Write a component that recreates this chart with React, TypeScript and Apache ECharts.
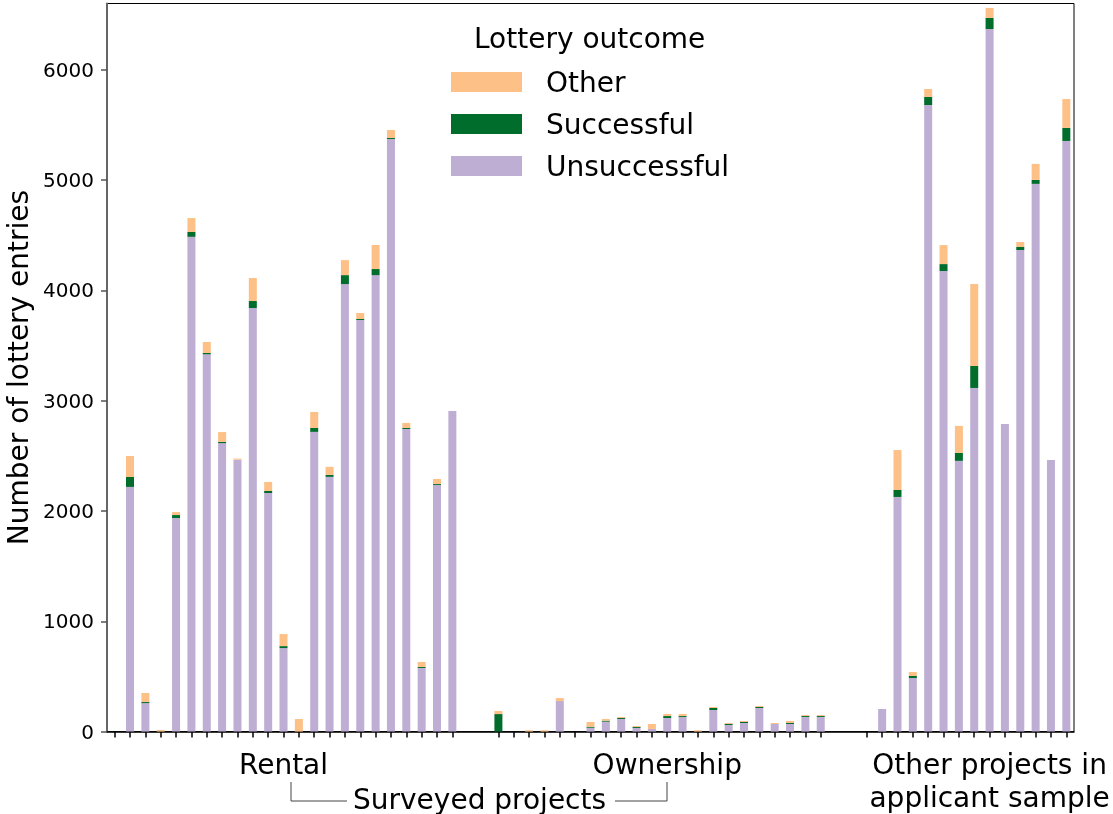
import React, { useEffect, useRef } from "react";
import * as echarts from "echarts";

// Category slots: rental projects, gap, ownership projects, gap, other projects
const rentalIds = ["R01","R02","R03","R04","R05","R06","R07","R08","R09","R10","R11","R12","R13","R14","R15","R16","R17","R18","R19","R20","R21","R22","R23"];
const ownershipIds = ["O01","O02","O03","O04","O05","O06","O07","O08","O09","O10","O11","O12","O13","O14","O15","O16","O17","O18","O19","O20","O21","O22"];
const otherIds = ["A01","A02","A03","A04","A05","A06","A07","A08","A09","A10","A11","A12","A13","A14"];

const rentalUnsuccessful = [0, 2218, 258, 0, 1935, 4485, 3420, 2615, 2465, 3840, 2163, 757, 0, 2717, 2309, 4057, 3731, 4138, 5372, 2743, 577, 2236, 2907];
const rentalSuccessful = [0, 90, 10, 0, 28, 45, 12, 10, 0, 63, 18, 18, 0, 35, 18, 81, 9, 55, 9, 9, 9, 9, 0];
const rentalOther = [0, 190, 82, 15, 27, 125, 100, 90, 10, 209, 82, 109, 114, 145, 73, 136, 54, 218, 72, 46, 45, 45, 0];

const ownershipUnsuccessful = [0, 0, 0, 0, 277, 0, 35, 90, 114, 33, 24, 123, 132, 0, 196, 60, 78, 214, 69, 69, 132, 132];
const ownershipSuccessful = [159, 0, 0, 0, 0, 0, 9, 9, 9, 9, 0, 18, 9, 0, 18, 9, 9, 9, 0, 9, 9, 9];
const ownershipOther = [28, 0, 12, 12, 27, 0, 43, 15, 9, 9, 45, 19, 19, 12, 9, 9, 9, 9, 9, 18, 9, 9];

const otherUnsuccessful = [0, 205, 2127, 486, 5680, 4175, 2454, 3115, 6369, 2788, 4366, 4965, 2462, 5354];
const otherSuccessful = [0, 0, 63, 18, 73, 63, 72, 199, 100, 0, 27, 36, 0, 118];
const otherOther = [0, 0, 362, 36, 72, 172, 245, 743, 91, 0, 45, 145, 0, 262];

const gapSize = 2;
const groupLabels: Record<string, string> = {
  R12: "Rental",
  O12: "Ownership",
  A09: "Other projects in\napplicant sample",
};
const yTicks = [0, 1000, 2000, 3000, 4000, 5000, 6000];
const seriesNames = ["Unsuccessful", "Successful", "Other"];
const seriesColors = ["#beaed4", "#006d2c", "#fdc086"];

export default function App() {
  const ref = useRef<HTMLDivElement>(null);
  useEffect(() => {
    if (!ref.current) return;
    document.body.style.margin = "0";
    const chart = echarts.init(ref.current, undefined, { renderer: "svg" });

    const gap = (p: string) => Array.from({ length: gapSize }, (_, i) => `${p}${i}`);
    const categories = [...rentalIds, ...gap("gapA"), ...ownershipIds, ...gap("gapB"), ...otherIds];
    const nulls = Array(gapSize).fill(null);
    const stacks = [
      [...rentalUnsuccessful, ...nulls, ...ownershipUnsuccessful, ...nulls, ...otherUnsuccessful],
      [...rentalSuccessful, ...nulls, ...ownershipSuccessful, ...nulls, ...otherSuccessful],
      [...rentalOther, ...nulls, ...ownershipOther, ...nulls, ...otherOther],
    ];
    const isGap = (i: number) => categories[i].startsWith("gap");
    const font = "DejaVu Sans";

    chart.setOption({
      animation: false,
      textStyle: { fontFamily: font },
      title: {
        text: "Lottery outcome",
        left: 474,
        top: 24,
        padding: 0,
        textStyle: { fontFamily: font, fontSize: 28, fontWeight: "normal", color: "#000" },
      },
      legend: {
        data: ["Other", "Successful", "Unsuccessful"],
        orient: "vertical",
        left: 451,
        top: 68,
        padding: 0,
        itemWidth: 71,
        itemHeight: 20,
        itemGap: 14,
        icon: "rect",
        selectedMode: false,
        textStyle: { fontFamily: font, fontSize: 28, color: "#000", lineHeight: 28, padding: [0, 0, 0, 19] },
      },
      grid: {
        left: 107, right: 39, top: 3.5, bottom: 82.4,
        outerBoundsMode: "none", containLabel: false,
        show: true, borderColor: "#000", borderWidth: 1, backgroundColor: "transparent",
      },
      xAxis: {
        type: "category",
        data: categories,
        boundaryGap: true,
        axisLine: { show: true, lineStyle: { color: "#000", width: 1.5 } },
        axisTick: {
          show: true,
          alignWithLabel: true,
          length: 6,
          interval: (i: number) => !isGap(i),
          lineStyle: { color: "#000", width: 1.5 },
        },
        axisLabel: {
          interval: (i: number, v: string) => v in groupLabels,
          formatter: (v: string) => groupLabels[v] ?? "",
          fontFamily: font,
          fontSize: 28,
          lineHeight: 33,
          color: "#000",
          margin: 16,
          align: "center",
        },
        splitLine: { show: false },
      },
      yAxis: {
        type: "value",
        min: yTicks[0],
        max: 6600,
        interval: yTicks[1] - yTicks[0],
        name: "Number of lottery entries",
        nameLocation: "middle",
        nameGap: 74,
        nameTextStyle: { fontFamily: font, fontSize: 28, color: "#000" },
        axisLine: { show: true, lineStyle: { color: "#666", width: 2 } },
        axisTick: { show: true, length: 6, customValues: yTicks, lineStyle: { color: "#555", width: 1.5 } },
        axisLabel: {
          fontFamily: font,
          fontSize: 20,
          color: "#000",
          margin: 13,
          customValues: yTicks,
          formatter: (v: number) => (yTicks.includes(v) ? String(v) : ""),
        },
        splitLine: { show: false },
      },
      series: seriesNames.map((name, k) => ({
        name,
        type: "bar",
        stack: "total",
        barWidth: 8,
        data: stacks[k],
        itemStyle: { color: seriesColors[k] },
        emphasis: { disabled: true },
      })),
      graphic: [
        {
          type: "text",
          left: 353,
          top: 785,
          style: { text: "Surveyed projects", fontFamily: font, fontSize: 28, fill: "#000" },
        },
        { type: "polyline", shape: { points: [[291, 782], [291, 801], [347, 801]] }, style: { stroke: "#444", lineWidth: 1, fill: null } },
        { type: "polyline", shape: { points: [[615, 801], [667, 801], [667, 782]] }, style: { stroke: "#444", lineWidth: 1, fill: null } },
      ],
    });
    return () => chart.dispose();
  }, []);
  return <div ref={ref} style={{ position: "fixed", left: 0, top: 0, width: 1113, height: 814 }} />;
}
